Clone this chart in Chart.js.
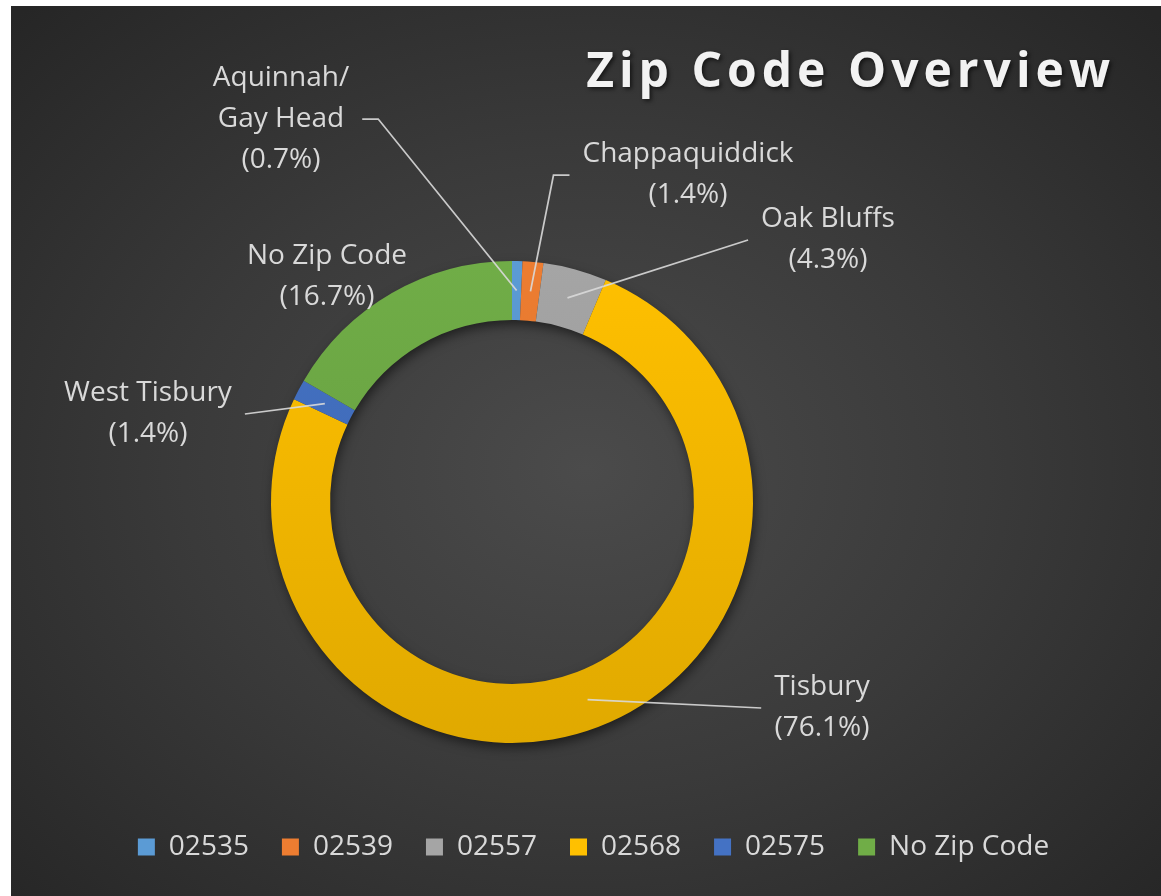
<!DOCTYPE html>
<html>
<head>
<meta charset="utf-8">
<title>Zip Code Overview</title>
<script src="https://cdn.jsdelivr.net/npm/chart.js@4.4.1/dist/chart.umd.min.js"></script>
<style>
  html, body { margin: 0; padding: 0; background: #fff; }
  #wrap {
    position: absolute; left: 11px; top: 6px; width: 1150px; height: 890px;
    background: radial-gradient(ellipse 70% 72% at 50% 52%, #4b4b4b 0%, #3a3a3a 50%, #262626 100%);
  }
</style>
</head>
<body>
<div id="wrap"><canvas id="zipChart"></canvas></div>
<script>
// ========== Dados ==========
const chartTitleText = 'Zip Code Overview';
const zipCodes = ['02535', '02539', '02557', '02568', '02575', 'No Zip Code'];
const towns = [['Aquinnah/', 'Gay Head'], ['Chappaquiddick'], ['Oak Bluffs'], ['Tisbury'], ['West Tisbury'], ['No Zip Code']];
const percents = [0.7, 1.4, 4.3, 76.1, 1.4, 16.7];
const colors = ['#5B9BD5', '#ED7D31', '#A5A5A5', '#FFC000', '#4472C4', '#70AD47'];

// ========== Layout ==========
const RING_RADIUS = 241;
// label centres, relative to the ring centre (dragged by hand in the original)
const labelOffsets = [[-231, -383], [176, -327], [316, -262], [310, 206], [-364, -88], [-185, -225]];
const leaderLines = [true, true, true, true, true, false];
const LABEL_FONT = '28px "Open Sans"';
const LINE_HEIGHT = 41;

function darken(hex, f) {
  const n = parseInt(hex.slice(1), 16);
  const r = Math.round(((n >> 16) & 255) * f), g = Math.round(((n >> 8) & 255) * f), b = Math.round((n & 255) * f);
  return `rgb(${r},${g},${b})`;
}

function sliceFill(c) {
  const chart = c.chart, area = chart.chartArea;
  const base = colors[c.dataIndex];
  if (!area) return base;
  const cy = (area.top + area.bottom) / 2;
  const g = chart.ctx.createLinearGradient(0, cy - RING_RADIUS, 0, cy + RING_RADIUS);
  g.addColorStop(0, base);
  g.addColorStop(1, darken(base, 0.88));
  return g;
}

// ========== Plugins ==========
const ringShadow = {
  id: 'ringShadow',
  beforeDatasetsDraw(chart) {
    const arc = chart.getDatasetMeta(0).data[0];
    if (!arc) return;
    const {x, y, innerRadius, outerRadius} = arc.getProps(['x', 'y', 'innerRadius', 'outerRadius'], true);
    const ctx = chart.ctx;
    ctx.save();
    ctx.shadowColor = 'rgba(0,0,0,0.55)';
    ctx.shadowBlur = 12;
    ctx.shadowOffsetX = 2;
    ctx.shadowOffsetY = 5;
    ctx.fillStyle = '#3a3a3a';
    ctx.beginPath();
    ctx.arc(x, y, outerRadius - 1, 0, Math.PI * 2);
    ctx.arc(x, y, innerRadius + 1, 0, Math.PI * 2, true);
    ctx.fill();
    ctx.restore();
  }
};

const leaderLabels = {
  id: 'leaderLabels',
  afterDatasetsDraw(chart) {
    const ctx = chart.ctx;
    const meta = chart.getDatasetMeta(0);
    ctx.save();
    ctx.font = LABEL_FONT;
    ctx.textAlign = 'center';
    ctx.textBaseline = 'middle';
    ctx.fillStyle = '#D9D9D9';
    ctx.strokeStyle = 'rgba(217,217,217,0.9)';
    ctx.lineWidth = 1.75;
    meta.data.forEach((arc, i) => {
      const p = arc.getProps(['x', 'y', 'startAngle', 'endAngle', 'innerRadius', 'outerRadius'], true);
      const mid = (p.startAngle + p.endAngle) / 2;
      const r = (p.innerRadius + p.outerRadius) / 2;
      const ax = p.x + Math.cos(mid) * r;
      const ay = p.y + Math.sin(mid) * r;
      const lines = towns[i].concat('(' + percents[i].toFixed(1) + '%)');
      const lx = p.x + labelOffsets[i][0];
      const ly = p.y + labelOffsets[i][1];
      const w = Math.max(...lines.map(t => ctx.measureText(t).width));
      if (leaderLines[i]) {
        const dir = ax > lx ? 1 : -1;
        const sx = lx + dir * (w / 2 + 13);
        ctx.beginPath();
        ctx.moveTo(sx, ly);
        if (Math.abs(ay - ly) > Math.abs(ax - sx)) ctx.lineTo(sx + dir * 16, ly);
        ctx.lineTo(ax, ay);
        ctx.stroke();
      }
      lines.forEach((t, k) => ctx.fillText(t, lx, ly + (k - (lines.length - 1) / 2) * LINE_HEIGHT));
    });
    ctx.restore();
  }
};

const chartTitle = {
  id: 'chartTitle',
  afterDraw(chart) {
    const ctx = chart.ctx;
    ctx.save();
    ctx.font = 'bold 48px "Open Sans"';
    ctx.letterSpacing = '5px';
    ctx.textAlign = 'right';
    ctx.textBaseline = 'alphabetic';
    ctx.fillStyle = '#F2F2F2';
    ctx.shadowColor = 'rgba(0,0,0,0.6)';
    ctx.shadowBlur = 4;
    ctx.shadowOffsetX = 2;
    ctx.shadowOffsetY = 2;
    ctx.fillText(chartTitleText, chart.width - 46, 81);
    ctx.restore();
  }
};

// ========== Gráfico ==========
function drawChart() {
  const ctx = document.getElementById('zipChart').getContext('2d');
  new Chart(ctx, {
    type: 'doughnut',
    data: {
      labels: zipCodes,
      datasets: [{ data: percents, backgroundColor: sliceFill, borderWidth: 0 }]
    },
    options: {
      responsive: true,
      maintainAspectRatio: false,
      animation: false,
      events: [],
      radius: RING_RADIUS,
      cutout: '75.5%',
      layout: { padding: { top: 198, left: 15, bottom: 25, right: 0 } },
      plugins: {
        legend: {
          position: 'bottom',
          labels: {
            color: '#D9D9D9',
            font: { family: 'Open Sans', size: 28 },
            boxWidth: 17,
            boxHeight: 17,
            padding: 33,
            generateLabels(chart) {
              const items = Chart.overrides.doughnut.plugins.legend.labels.generateLabels(chart);
              return items.map((item, i) => Object.assign(item, { fillStyle: colors[i], strokeStyle: colors[i], lineWidth: 0 }));
            }
          }
        },
        // empty box on the right keeps the ring left of centre without moving the legend
        subtitle: { display: true, text: '', position: 'right', fullSize: false, font: { size: 10, lineHeight: 1 }, padding: { top: 153, bottom: 0 } },
        title: { display: false },
        tooltip: { enabled: false }
      }
    },
    plugins: [ringShadow, leaderLabels, chartTitle]
  });
}

Promise.all([
  document.fonts.load(LABEL_FONT),
  document.fonts.load('bold 48px "Open Sans"')
]).catch(() => {}).finally(drawChart);
</script>
</body>
</html>
